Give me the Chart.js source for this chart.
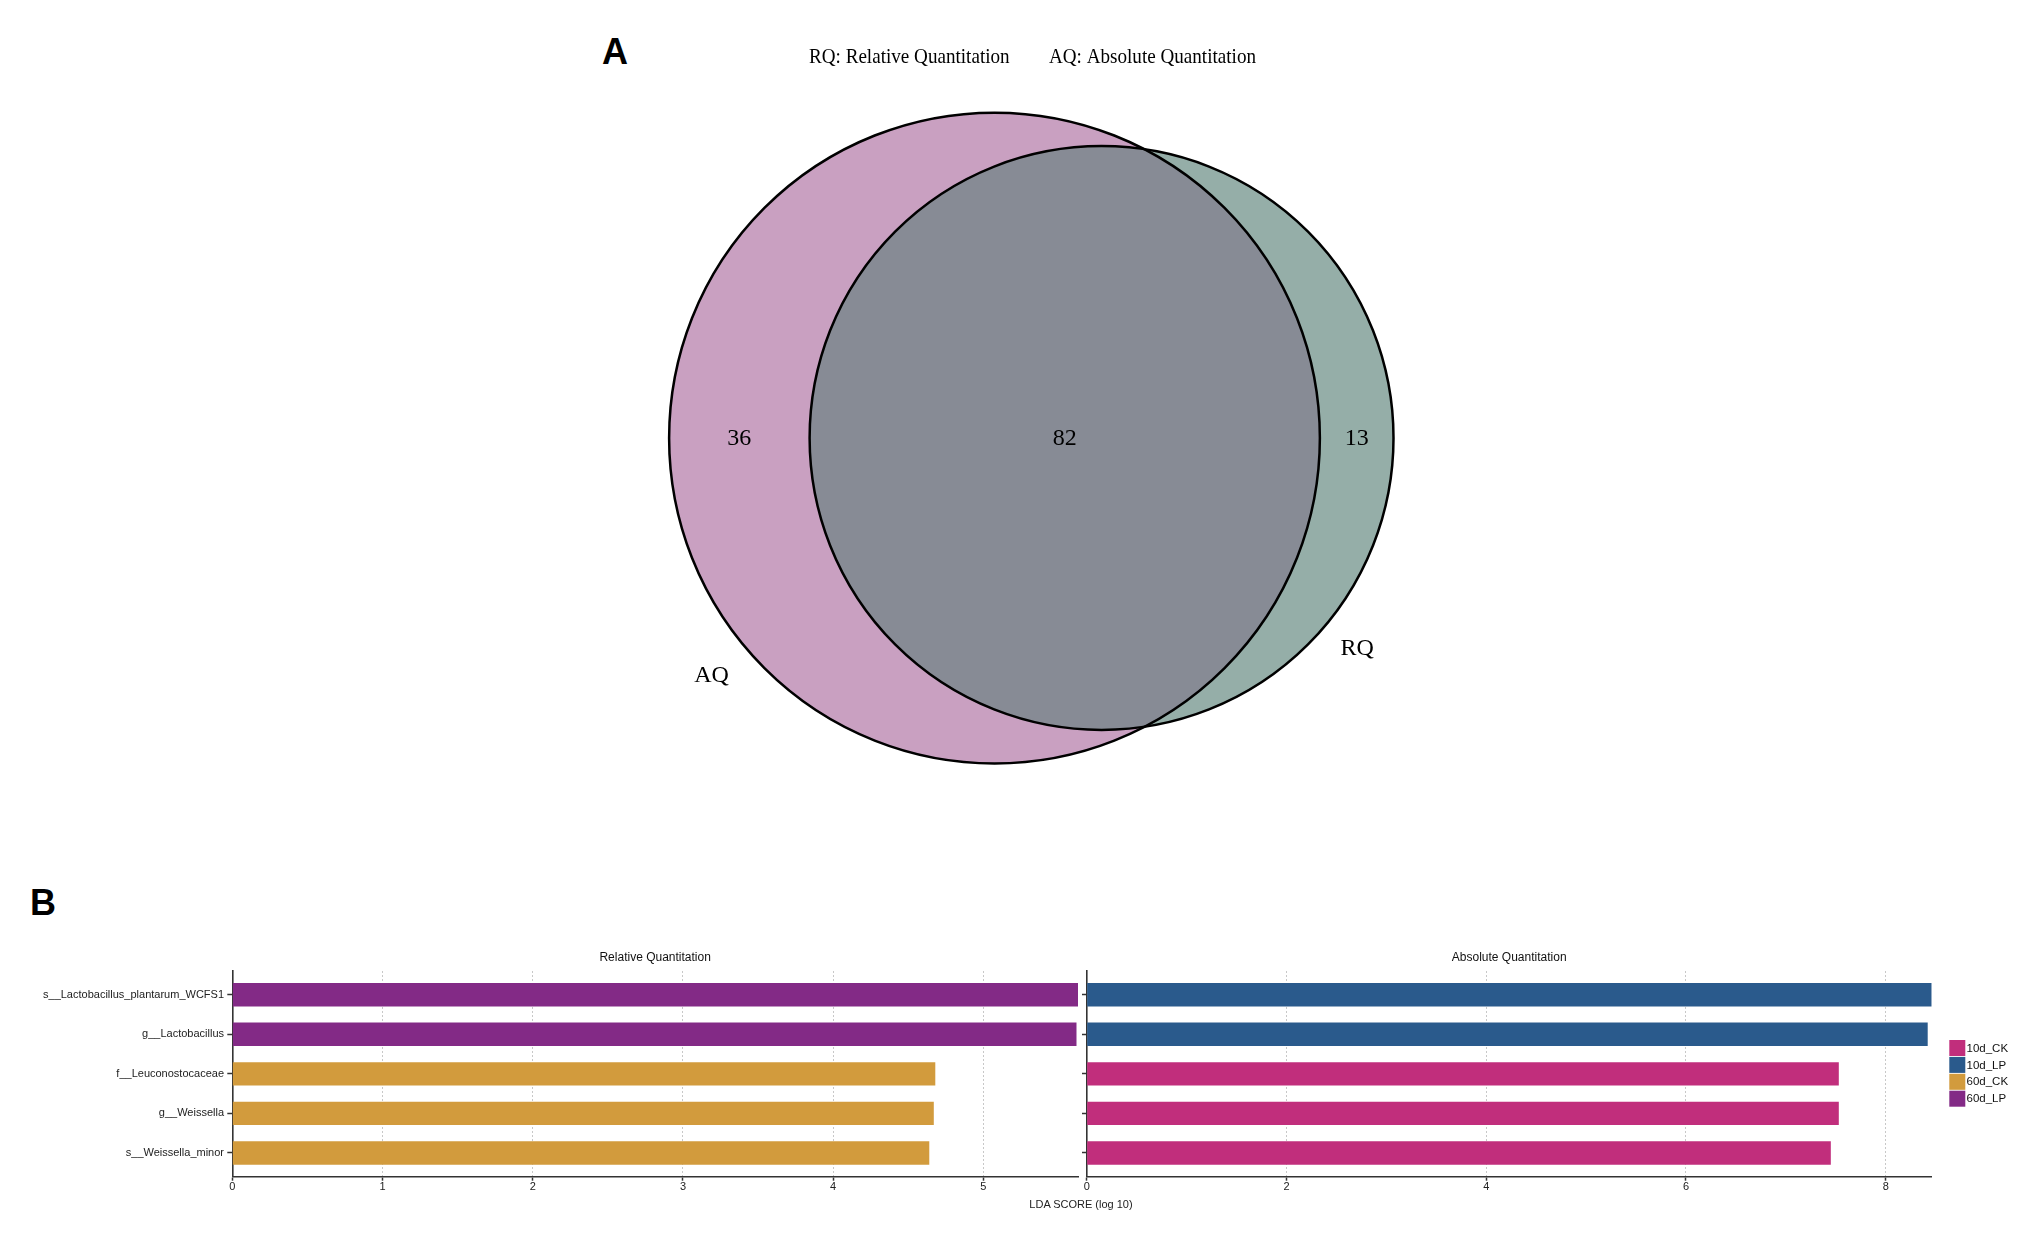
<!DOCTYPE html>
<html>
<head>
<meta charset="utf-8">
<script src="https://cdn.jsdelivr.net/npm/chart.js@4.4.0/dist/chart.umd.min.js"></script>
<style>
  body { margin: 0; background: #fff; width: 2033px; height: 1237px; overflow: hidden; position: relative; }
  canvas { position: absolute; }
  #venn { left: 500px; top: 0; }
  #rqChart { left: 0; top: 940px; }
  #aqChart { left: 1082px; top: 940px; }
  .lbl { position: absolute; transform: translate(-50%, -50%); white-space: nowrap; line-height: 1; color: #000; }
  .panel { font-family: "Liberation Sans Narrow", "Liberation Sans", Arial, sans-serif; font-weight: bold; font-size: 36px; }
  .axis-title { font-family: "Liberation Sans", Arial, sans-serif; font-size: 11px; color: #222; }
</style>
</head>
<body>
<div class="lbl panel" style="left:615px; top:52px;">A</div>
<div class="lbl panel" style="left:43px; top:903px;">B</div>
<canvas id="venn" width="1100" height="820"></canvas>
<canvas id="rqChart" width="1082" height="297"></canvas>
<canvas id="aqChart" width="951" height="297"></canvas>
<div class="lbl axis-title" style="left:1081px; top:1204px;">LDA SCORE (log 10)</div>

<script>
// 韦恩图数据
const vennSets = ['AQ', 'RQ'];
const vennNames = ['AQ: Absolute Quantitation', 'RQ: Relative Quantitation'];
const vennOnly = [36, 13];   // 仅 AQ / 仅 RQ
const vennShared = 82;       // 共有

// LEfSe 条形图数据
const taxa = ['s__Lactobacillus_plantarum_WCFS1', 'g__Lactobacillus', 'f__Leuconostocaceae', 'g__Weissella', 's__Weissella_minor'];
const groups = ['10d_CK', '10d_LP', '60d_CK', '60d_LP'];
const rqScores = [5.63, 5.62, 4.68, 4.67, 4.64];
const rqGroups = ['60d_LP', '60d_LP', '60d_CK', '60d_CK', '60d_CK'];
const aqScores = [8.46, 8.42, 7.53, 7.53, 7.45];
const aqGroups = ['10d_LP', '10d_LP', '10d_CK', '10d_CK', '10d_CK'];
const xTicksRQ = [0, 1, 2, 3, 4, 5];
const xTicksAQ = [0, 2, 4, 6, 8];

const groupColors = ['#C12E7C', '#2A5A8C', '#D29B3D', '#832A86'];
const vennFill = ['#C9A0C1', '#95AEA8'];
const vennOverlap = '#878B95';

// 透镜面积，用于按面积比例求两圆距离
function lensArea(r1, r2, d) {
    if (d >= r1 + r2) return 0;
    if (d <= Math.abs(r1 - r2)) return Math.PI * Math.min(r1, r2) ** 2;
    const a1 = Math.acos((d * d + r1 * r1 - r2 * r2) / (2 * d * r1));
    const a2 = Math.acos((d * d + r2 * r2 - r1 * r1) / (2 * d * r2));
    return r1 * r1 * a1 + r2 * r2 * a2 - 0.5 * Math.sqrt((-d + r1 + r2) * (d + r1 - r2) * (d - r1 + r2) * (d + r1 + r2));
}

const radii = vennOnly.map(v => Math.sqrt((v + vennShared) / Math.PI));
let lo = Math.abs(radii[0] - radii[1]), hi = radii[0] + radii[1];
for (let i = 0; i < 60; i++) {
    const mid = (lo + hi) / 2;
    if (lensArea(radii[0], radii[1], mid) > vennShared) lo = mid; else hi = mid;
}
const centerDist = (lo + hi) / 2;
const centers = [0, centerDist];

const vennPlugin = {
    id: 'vennPlugin',
    afterDatasetsDraw(chart) {
        const { ctx, scales: { x } } = chart;
        const unit = x.getPixelForValue(1) - x.getPixelForValue(0);
        const pts = chart.getDatasetMeta(0).data;
        const c = pts.map((p, i) => ({ x: p.x, y: p.y, r: radii[i] * unit }));
        const circle = (k) => { ctx.beginPath(); ctx.arc(c[k].x, c[k].y, c[k].r, 0, Math.PI * 2); };

        ctx.save();
        circle(0); ctx.fillStyle = vennFill[0]; ctx.fill();
        circle(1); ctx.fillStyle = vennFill[1]; ctx.fill();
        ctx.save();
        circle(0); ctx.clip();
        circle(1); ctx.fillStyle = vennOverlap; ctx.fill();
        ctx.restore();
        ctx.lineWidth = 2.5;
        ctx.strokeStyle = '#000';
        circle(0); ctx.stroke();
        circle(1); ctx.stroke();

        // 区域计数
        ctx.fillStyle = '#000';
        ctx.font = '24px "Liberation Serif", "Times New Roman", serif';
        ctx.textAlign = 'center';
        ctx.textBaseline = 'middle';
        const leftA = c[0].x - c[0].r, rightA = c[0].x + c[0].r;
        const leftR = c[1].x - c[1].r, rightR = c[1].x + c[1].r;
        ctx.fillText(String(vennOnly[0]), (leftA + leftR) / 2, c[0].y + 1);
        ctx.fillText(String(vennShared), (leftR + rightA) / 2, c[0].y + 1);
        ctx.fillText(String(vennOnly[1]), (rightA + rightR) / 2, c[0].y + 1);

        // 集合名
        const angles = [140, 39.5];
        vennSets.forEach((s, i) => {
            const a = angles[i] * Math.PI / 180;
            ctx.fillText(s, c[i].x + Math.cos(a) * c[i].r * 1.135, c[i].y + Math.sin(a) * c[i].r * 1.135);
        });

        // 顶部说明（字形略窄）
        ctx.font = '21px "Liberation Serif", "Times New Roman", serif';
        ctx.textAlign = 'left';
        ctx.save();
        ctx.translate(309, 57);
        ctx.scale(0.91, 1);
        ctx.fillText(vennNames[1], 0, 0);
        ctx.restore();
        ctx.save();
        ctx.translate(549, 57);
        ctx.scale(0.91, 1);
        ctx.fillText(vennNames[0], 0, 0);
        ctx.restore();
        ctx.restore();
    }
};

new Chart(document.getElementById('venn'), {
    type: 'scatter',
    data: {
        datasets: [{ data: centers.map(cx => ({ x: cx, y: 0 })), pointRadius: 0 }]
    },
    options: {
        responsive: false,
        animation: false,
        events: [],
        layout: { padding: 0 },
        plugins: { legend: { display: false }, tooltip: { enabled: false } },
        scales: {
            x: { display: false, min: -9.314, max: 11.405 },
            y: { display: false, min: -7.195, max: 8.25 }
        }
    },
    plugins: [vennPlugin]
});

const tickFont = { family: '"Liberation Sans", Arial, sans-serif', size: 11 };

const panelTitle = {
    id: 'panelTitle',
    afterDraw(chart, args, opts) {
        const { ctx, chartArea } = chart;
        ctx.save();
        ctx.fillStyle = '#111';
        ctx.font = '12px "Liberation Sans", Arial, sans-serif';
        ctx.textAlign = 'center';
        ctx.textBaseline = 'middle';
        ctx.fillText(opts.text, (chartArea.left + chartArea.right) / 2, 18);
        ctx.restore();
    }
};

const groupLegend = {
    id: 'groupLegend',
    afterDraw(chart, args, opts) {
        if (!opts.show) return;
        const { ctx } = chart;
        ctx.save();
        ctx.font = '11.5px "Liberation Sans", Arial, sans-serif';
        ctx.textBaseline = 'middle';
        groups.forEach((g, i) => {
            const top = 100 + i * 16.9;
            ctx.fillStyle = groupColors[i];
            ctx.fillRect(867.3, top, 16, 16);
            ctx.fillStyle = '#111';
            ctx.fillText(g, 884.5, top + 8.5);
        });
        ctx.restore();
    }
};

function makeLda(canvasId, scores, grp, xTicks, title, yWidth, padRight, showLabels, showLegend) {
    return new Chart(document.getElementById(canvasId), {
        type: 'bar',
        data: {
            datasets: [{
                data: scores.map((v, i) => ({ x: v, y: i })),
                backgroundColor: grp.map(g => groupColors[groups.indexOf(g)]),
                barPercentage: 0.59,
                categoryPercentage: 1
            }]
        },
        options: {
            indexAxis: 'y',
            responsive: false,
            animation: false,
            events: [],
            layout: { padding: { top: 31, right: padRight, bottom: 30.3, left: 0 } },
            plugins: {
                legend: { display: false },
                tooltip: { enabled: false },
                panelTitle: { text: title },
                groupLegend: { show: showLegend }
            },
            scales: {
                x: {
                    type: 'linear',
                    min: 0,
                    max: Math.max(...scores),
                    afterBuildTicks: s => { s.ticks = xTicks.map(v => ({ value: v })); },
                    afterFit: s => { s.height = 30; },
                    ticks: { font: tickFont, color: '#222', padding: 0, maxRotation: 0 },
                    grid: { color: '#c8c8c8', lineWidth: 1, tickLength: 4, tickColor: '#333', tickWidth: 1.5 },
                    border: { color: '#333', width: 1.6, dash: [2, 2] }
                },
                y: {
                    type: 'linear',
                    reverse: true,
                    offset: false,
                    min: -0.6,
                    max: taxa.length - 0.4,
                    afterBuildTicks: s => { s.ticks = taxa.map((t, i) => ({ value: i })); },
                    afterFit: s => { s.width = yWidth; },
                    ticks: {
                        display: showLabels,
                        font: tickFont,
                        color: '#222',
                        padding: 3.3,
                        callback: v => taxa[v]
                    },
                    grid: { offset: false, drawOnChartArea: false, tickLength: 5, tickColor: '#333', tickWidth: 1.5 },
                    border: { color: '#333', width: 1.6 }
                }
            }
        },
        plugins: [panelTitle, groupLegend]
    });
}

makeLda('rqChart', rqScores, rqGroups, xTicksRQ, 'Relative Quantitation', 232.3, 4, true, false);
makeLda('aqChart', aqScores, aqGroups, xTicksAQ, 'Absolute Quantitation', 4.7, 101.3, false, true);
</script>
</body>
</html>
